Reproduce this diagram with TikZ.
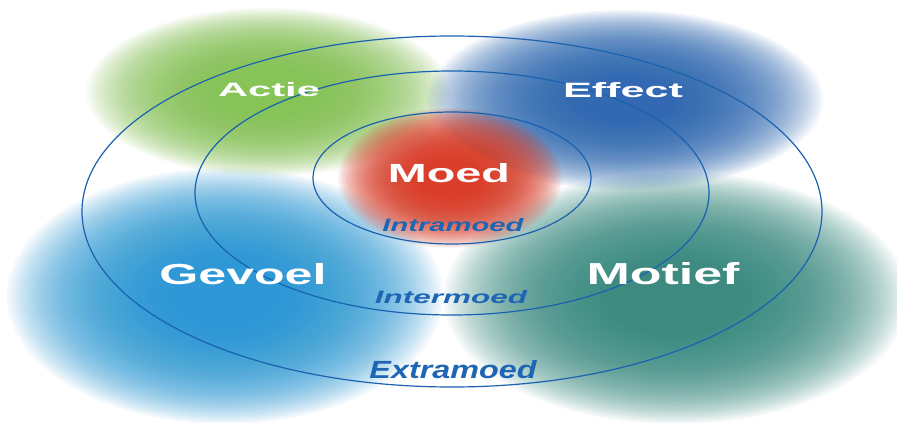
\documentclass[tikz,border=0pt]{standalone}
\usepackage{fontspec}
\setmainfont{Liberation Sans}
\definecolor{cgreen}{HTML}{86C453}
\definecolor{cblue}{HTML}{2C68B2}
\definecolor{clblue}{HTML}{2698D6}
\definecolor{cteal}{HTML}{358A80}
\definecolor{cred}{HTML}{DA3A24}
\definecolor{cline}{HTML}{1A62B0}
\definecolor{ctext}{HTML}{1E66B4}
\tikzset{
  ring/.style={draw=cline, line width=1.2pt},
  wlbl/.style={anchor=base, inner sep=0pt, text=white, font=\bfseries},
  blbl/.style={anchor=base, inner sep=0pt, text=ctext, font=\bfseries\itshape},
}
\newcommand\myblob[6]{% color, x, y, rx, ry, alpha
  \foreach \i in {1,...,50}{%
    \pgfmathsetmacro\s{0.25+0.75*\i/50}%
    \fill[#1, opacity=#6] (#2,#3) ellipse [x radius=\s*#4, y radius=\s*#5];
  }%
}
\begin{document}
\begin{tikzpicture}[x=1pt,y=-1pt]
\useasboundingbox (0,0) rectangle (897,423);
\fill[white] (0,0) rectangle (897,423);
% blobs
\myblob{clblue}{225}{296}{218}{128}{0.05}
\myblob{cteal}{676}{298}{232}{126}{0.05}
\myblob{cgreen}{268}{92}{182}{84}{0.05}
\myblob{cblue}{625}{100}{198}{90}{0.05}
\myblob{cred}{450}{178}{112}{70}{0.056}
% rings
\draw[ring] (452,211.5) ellipse [x radius=370, y radius=175.5];
\draw[ring] (452,193) ellipse [x radius=257, y radius=122];
\draw[ring] (452,178) ellipse [x radius=139, y radius=66];
% labels
\node[wlbl] (actie) at (269,96) {\resizebox{102pt}{14pt}{Actie}};
\node[wlbl] (effect) at (623,97) {\resizebox{120pt}{15pt}{Effect}};
\node[wlbl] (moed) at (449,182) {\resizebox{122pt}{19pt}{Moed}};
\node[wlbl] (gevoel) at (243,284) {\resizebox{167pt}{21pt}{Gevoel}};
\node[wlbl] (motief) at (663,284) {\resizebox{153pt}{22pt}{Motief}};
\node[blbl] (intra) at (453,231) {\resizebox{141pt}{13pt}{Intramoed}};
\node[blbl] (inter) at (451,303) {\resizebox{152pt}{13pt}{Intermoed}};
\node[blbl] (extra) at (453,378) {\resizebox{167pt}{18pt}{Extramoed}};
\end{tikzpicture}
\end{document}
